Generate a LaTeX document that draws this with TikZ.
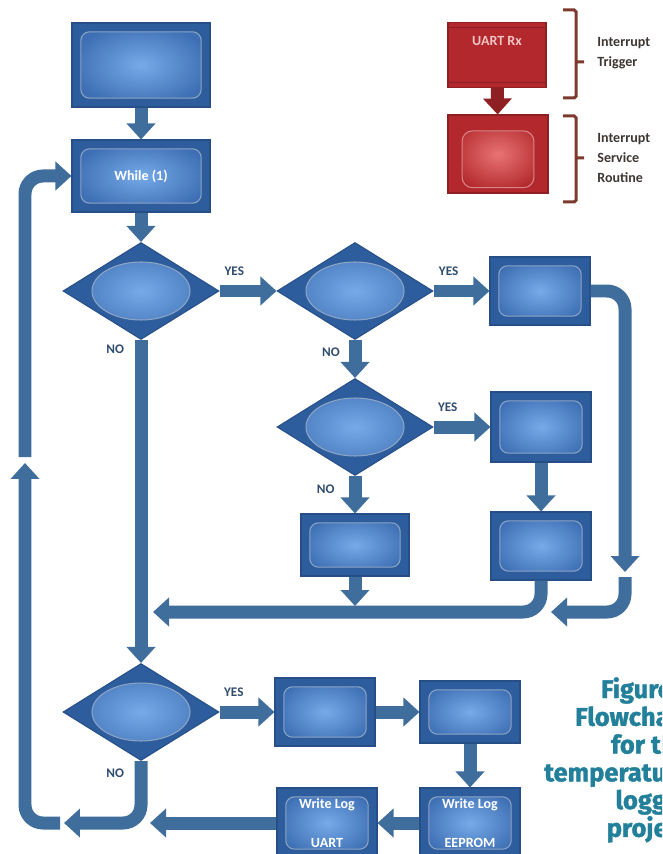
\documentclass[tikz,border=0pt]{standalone}
\usepackage{fontspec}
\setmainfont{Carlito}
\newfontfamily\capfont[BoldFeatures={FakeBold=1.6}]{Fira Sans}
\usetikzlibrary{arrows.meta,shapes.geometric}

\begin{document}
\begin{tikzpicture}[x=0.02cm, y=-0.02cm,
    pbox/.style={rectangle, fill=boxA, draw=boxB, line width=0.6pt,
                 minimum width=2cm, minimum height=1.36cm, inner sep=1pt,
                 font=\bfseries\fontsize{8}{9.6}\selectfont, text=white, align=center,
                 path picture={\shadedraw[inner color=glA, outer color=glB, draw=glE,
                     rounded corners=5pt]
                   ([shift={(5pt,-5pt)}]path picture bounding box.north west) rectangle
                   ([shift={(-5pt,5pt)}]path picture bounding box.south east);}},
    pdec/.style={diamond, fill=boxA, draw=boxB, line width=0.6pt, inner sep=0pt,
                 minimum width=3.12cm, minimum height=1.94cm,
                 path picture={\shadedraw[inner color=glA, outer color=glB, draw=glE]
                   (path picture bounding box.center) ellipse [x radius=0.98cm, y radius=0.58cm];}},
    irq/.style={rectangle, fill=rdA, draw=rdB, line width=0.6pt, inner sep=1pt,
                minimum width=1.96cm, font=\bfseries\fontsize{8}{9.6}\selectfont, text=rdT},
    flow/.style={draw=arC, line width=0.26cm, rounded corners=0.36cm,
                 -{Triangle[width=0.56cm, length=0.32cm]}},
    ans/.style={font=\bfseries\fontsize{7.5}{9}\selectfont, text=ansC, inner sep=1pt},
    note/.style={font=\bfseries\fontsize{8}{11.5}\selectfont, text=noteC, align=left,
                 anchor=west, inner sep=0pt},
    brk/.style={draw=brC, line width=0.06cm, rounded corners=1pt},
]

% Colors
\definecolor{boxA}{HTML}{2D5D9C}
\definecolor{boxB}{HTML}{264F88}
\definecolor{glA}{HTML}{76AAE8}
\definecolor{glB}{HTML}{3E6FB4}
\definecolor{glE}{HTML}{8DA5C4}
\definecolor{rdA}{HTML}{B2282C}
\definecolor{rdB}{HTML}{8E1F22}
\definecolor{rdG}{HTML}{E87373}
\definecolor{rdT}{HTML}{F2C4C4}
\definecolor{arC}{HTML}{3F6D9C}
\definecolor{ansC}{HTML}{2F4B6E}
\definecolor{noteC}{HTML}{3E3733}
\definecolor{brC}{HTML}{7D3A2E}
\definecolor{capC}{HTML}{23809A}

\useasboundingbox (0,0) rectangle (662,854);
\clip (0,0) rectangle (662,854);

% === Start ===
\node[pbox, minimum width=2.76cm, minimum height=1.68cm] (init) at (141,65) {};
\node[pbox, minimum width=2.76cm, minimum height=1.44cm] (while) at (141,176) {While (1)};

% === Interrupt ===
\node[irq, minimum height=1.3cm, text height=6pt, text depth=17pt,
      path picture={\draw[rdB, line width=0.8pt]
        ([yshift=-3pt]path picture bounding box.north west) -- ([yshift=-3pt]path picture bounding box.north east)
        ([yshift=3pt]path picture bounding box.south west) -- ([yshift=3pt]path picture bounding box.south east);}]
  (uart) at (497,55) {UART Rx};
\node[irq, minimum width=2cm, minimum height=1.56cm,
      path picture={\shadedraw[inner color=rdG, outer color=rdA, draw=rdT!60!rdA, rounded corners=6pt]
        ([shift={(8pt,-9pt)}]path picture bounding box.north west) rectangle
        ([shift={(-8pt,3pt)}]path picture bounding box.south east);}]
  (isr) at (498,154) {};
\draw[flow, draw=rdB] (uart) -- (isr);

\draw[brk] (563,10) -- (576,10) -- (576,98) -- (563,98) (576,62) -- (584,62);
\draw[brk] (563,116) -- (576,116) -- (576,202) -- (563,202) (576,158) -- (584,158);
\node[note] (trigTxt) at (597,53) {Interrupt\\Trigger};
\node[note] (isrTxt) at (597,158) {Interrupt\\Service\\Routine};

% === Decisions ===
\node[pdec] (d1) at (141,291) {};
\node[pdec] (d2) at (355,291) {};
\node[pbox] (b1) at (540,291) {};
\node[pdec] (d3) at (355,427) {};
\node[pbox, minimum height=1.4cm] (b2) at (541,427) {};
\node[pbox] (b3) at (541,546) {};
\node[pbox, minimum width=2.16cm, minimum height=1.24cm] (b4) at (355,545) {};

% === Logging ===
\node[pdec] (d4) at (141,712) {};
\node[pbox] (b5) at (325,712) {};
\node[pbox, minimum height=1.24cm] (b6) at (470,712) {};
\node[pbox, minimum height=1.4cm] (b7) at (470,823) {Write Log\\[13pt]EEPROM};
\node[pbox, minimum height=1.4cm] (b8) at (327,823) {Write Log\\[13pt]UART};

% === Caption ===
\node[anchor=north east, align=right, inner sep=0pt, text=capC,
      font=\capfont\bfseries\fontsize{14.5}{15.8}\selectfont] (cap) at (690,677)
  {Figure 1\\Flowchart\\for the\\temperature\\logger\\project};

% Junctions
\coordinate (jB4) at (355,606);
\coordinate (jMain) at (153,612);
\coordinate (jR1) at (625,572);
\coordinate (jR2) at (625,577);
\coordinate (jR3) at (551,612);
\coordinate (jOut) at (150,823);
\coordinate (jNo) at (64,823);
\coordinate (jLa) at (60,823);
\coordinate (jLb) at (25,463);
\coordinate (jLc) at (25,457);

% === Connectors ===
\draw[flow] (init) -- (while);
\draw[flow] (while) -- (d1);
\draw[flow] (d1) -- node[ans, pos=0.26, above=4pt] {YES} (d2);
\draw[flow] (d2) -- node[ans, pos=0.27, above=4pt] {YES} (b1);
\draw[flow] (d2) -- node[ans, pos=0.32, left=4pt] {NO} (d3);
\draw[flow] (d3) -- node[ans, pos=0.25, above=4pt] {YES} (b2);
\draw[flow] (d3) -- node[ans, pos=0.35, left=7pt] {NO} (b4);
\draw[flow] (b2) -- (b3);
\draw[flow] (b4) -- (jB4);
\draw[flow] (b3.south) |- (jMain);
\draw[flow] (b1.east) -| (jR1);
\draw[flow] (jR2) |- (jR3);
\draw[flow] (d1) -- node[ans, pos=0.03, left=5pt] {NO} (d4);
\draw[flow] (d4) -- node[ans, pos=0.26, above=4pt] {YES} (b5);
\draw[flow] (b5) -- (b6);
\draw[flow] (b6) -- (b7);
\draw[flow] (b7) -- (b8);
\draw[flow] (b8) -- (jOut);
\draw[flow] (d4.south) |- node[ans, pos=0.1, left=5pt] {NO} (jNo);
\draw[flow] (jLa) -| (jLb);
\draw[flow] (jLc) |- (while.west);
\end{tikzpicture}
\end{document}
